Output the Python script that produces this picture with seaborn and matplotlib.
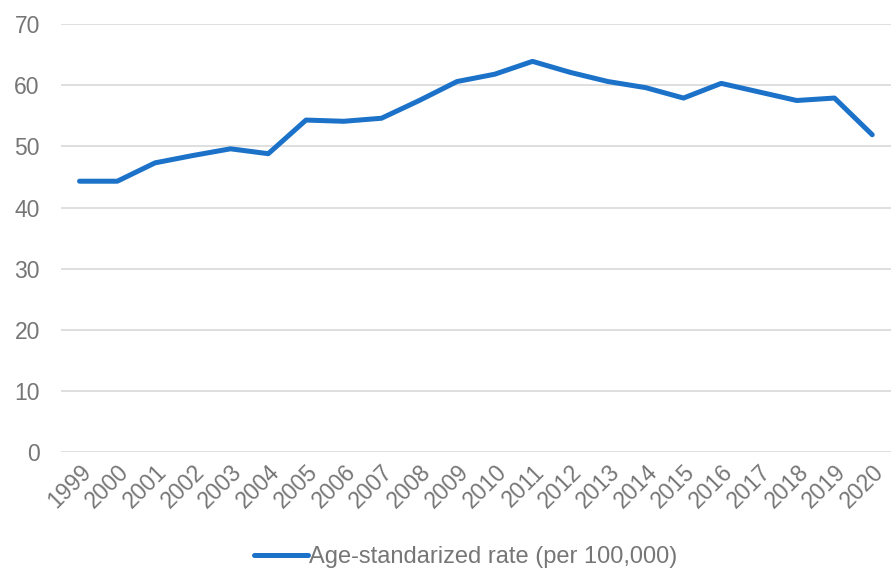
import matplotlib
matplotlib.use("Agg")
import matplotlib.pyplot as plt
import seaborn as sns
import pandas as pd

years = [str(y) for y in range(1999, 2021)]
rate = [44.3, 44.3, 47.3, 48.5, 49.6, 48.8, 54.3, 54.1, 54.6, 57.5, 60.6,
        61.8, 63.9, 62.1, 60.6, 59.6, 57.9, 60.3, 58.9, 57.5, 57.9, 51.9]
series_name = "Age-standarized rate (per 100,000)"

sns.set_style("white")
plt.rcParams['font.family'] = ['Liberation Sans', 'DejaVu Sans']

df = pd.DataFrame({"year": years, "rate": rate})

fig = plt.figure(figsize=(8.92, 5.73), dpi=100)
ax = fig.add_axes([0.068, 0.211, 0.931, 0.747])

sns.lineplot(data=df, x="year", y="rate", ax=ax, color="#1b72c8",
             linewidth=3.6, label=series_name, solid_capstyle="round")

ax.set_ylim(0, 70)
ax.set_yticks(range(0, 71, 10))
ax.set_xlim(-0.5, len(years) - 0.5)
ax.grid(axis="y", color="#d9d9d9", linewidth=1.2)
ax.set_axisbelow(True)
for s in ax.spines.values():
    s.set_visible(False)
ax.tick_params(axis="both", length=0, labelsize=16.5, labelcolor="#767676")
ax.tick_params(axis="y", pad=15)
ax.tick_params(axis="x", pad=6)
plt.setp(ax.get_xticklabels(), rotation=45, ha="right", rotation_mode="anchor")
ax.set_xlabel("")
ax.set_ylabel("")

ax.legend(loc="center", bbox_to_anchor=(0.522, 0.028), bbox_transform=fig.transFigure,
          frameon=False, fontsize=17, labelcolor="#767676",
          handlelength=2.3, handletextpad=0.05, borderpad=0)

fig.savefig("out.png", dpi=100)
